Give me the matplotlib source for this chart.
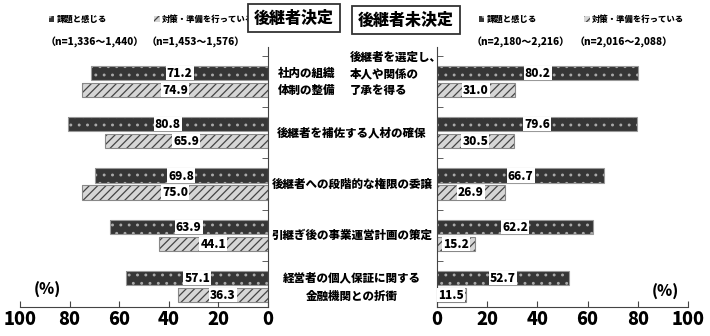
import matplotlib.pyplot as plt
import matplotlib.transforms as mtransforms
import numpy as np

plt.rcParams['font.family'] = ['Noto Sans CJK JP', 'DejaVu Sans']
plt.rcParams['hatch.linewidth'] = 0.9

# 項目
left_first = '社内の組織\n体制の整備'
right_first = '後継者を選定し、\n本人や関係の\n了承を得る'
shared_items = ['後継者を補佐する人材の確保', '後継者への段階的な権限の委譲',
                '引継ぎ後の事業運営計画の策定', '経営者の個人保証に関する\n金融機関との折衝']

series_names = ['課題と感じる', '対策・準備を行っている']

# 後継者決定
decided_issue = [71.2, 80.8, 69.8, 63.9, 57.1]
decided_action = [74.9, 65.9, 75.0, 44.1, 36.3]
decided_n = ['（n=1,336～1,440）', '（n=1,453～1,576）']

# 後継者未決定
undecided_issue = [80.2, 79.6, 66.7, 62.2, 52.7]
undecided_action = [31.0, 30.5, 26.9, 15.2, 11.5]
undecided_n = ['（n=2,180～2,216）', '（n=2,016～2,088）']

W, H = 710, 336
WT = 'black'
fig = plt.figure(figsize=(W / 100, H / 100), dpi=100)

bottom = 1 - 307 / H
height = (307 - 47) / H
ax_l = fig.add_axes([20 / W, bottom, 248 / W, height])
ax_r = fig.add_axes([437 / W, bottom, 251 / W, height])

y = np.arange(5)
off = 0.165
bh = 0.28
dark = '#363636'
light = '#d6d6d6'


def draw(ax, issue, action):
    h1 = ax.barh(y - off, issue, height=bh, color=dark, edgecolor='#aaaaaa',
                 hatch='..', linewidth=0)
    ax.barh(y - off, issue, height=bh, fill=False, edgecolor='#999999', linewidth=0.8)
    h2 = ax.barh(y + off, action, height=bh, color=light, edgecolor='#444444',
                 hatch='////', linewidth=0)
    ax.barh(y + off, action, height=bh, fill=False, edgecolor='#888888', linewidth=0.8)
    for vals, yy in [(issue, y - off), (action, y + off)]:
        for v, yi in zip(vals, yy):
            ax.text(v / 2, yi, f'{v:.1f}', ha='center', va='center', fontsize=8.5,
                    fontweight=WT,
                    bbox=dict(facecolor='white', edgecolor='none', pad=0.8))
    ax.set_ylim(4.4, -0.673)
    ax.set_yticks([])
    ax.set_yticks(np.arange(-0.5, 4.5, 1), minor=True)
    ax.tick_params(axis='y', which='minor', direction='in', length=4, color='#444')
    ax.set_xticks([0, 20, 40, 60, 80, 100])
    ax.tick_params(axis='x', direction='in', length=4, labelsize=13, pad=2, color='#444')
    for lbl in ax.get_xticklabels():
        lbl.set_fontweight(WT)
    ax.spines['top'].set_visible(False)
    for s in ax.spines.values():
        s.set_color('#444')
    return h1, h2


hl = draw(ax_l, decided_issue, decided_action)
ax_l.set_xlim(100, 0)
ax_l.spines['left'].set_visible(False)
ax_l.yaxis.set_ticks_position('right')

hr = draw(ax_r, undecided_issue, undecided_action)
ax_r.set_xlim(0, 100)
ax_r.spines['right'].set_visible(False)
ax_r.yaxis.set_ticks_position('left')

# 凡例
for ax, handles, x0 in [(ax_l, hl, 41), (ax_r, hr, 471)]:
    ax.legend(handles, series_names, ncol=2, loc='upper left',
              bbox_to_anchor=(x0 / W, 1 - 7 / H), bbox_transform=fig.transFigure,
              frameon=False, handlelength=0.7, handleheight=0.7, handletextpad=0.3,
              columnspacing=5.6, prop={'size': 6, 'weight': WT})

for txt, x in zip(decided_n + undecided_n, [95, 196, 521, 624]):
    fig.text(x / W, 1 - 42 / H, txt, ha='center', va='center', fontsize=7.2,
             fontweight=WT)

# 見出し
box = dict(boxstyle='square,pad=0.35', fc='white', ec='#333333', lw=1.3)
fig.text(294 / W, 1 - 18 / H, '後継者決定', ha='center', va='center', fontsize=11.5,
         fontweight=WT, bbox=box)
fig.text(406 / W, 1 - 20 / H, '後継者未決定', ha='center', va='center', fontsize=11.5,
         fontweight=WT, bbox=box)

# 項目ラベル
trans = mtransforms.blended_transform_factory(fig.transFigure, ax_l.transData)
ax_l.text(307 / W, 0, left_first, transform=trans, ha='center', va='center',
          fontsize=8.3, fontweight=WT, linespacing=1.45, clip_on=False)
ax_l.text(350 / W, -0.16, right_first, transform=trans, ha='left', va='center',
          fontsize=8.3, fontweight=WT, linespacing=1.45, clip_on=False)
for i, item in enumerate(shared_items, start=1):
    ax_l.text(352 / W, i, item, transform=trans, ha='center', va='center',
              fontsize=8.3, fontweight=WT, linespacing=1.6, clip_on=False)

fig.text(47 / W, 1 - 290 / H, '(%)', ha='center', va='center', fontsize=11,
         fontweight=WT)
fig.text(665 / W, 1 - 292 / H, '(%)', ha='center', va='center', fontsize=11,
         fontweight=WT)

fig.savefig('out.png', dpi=100)
